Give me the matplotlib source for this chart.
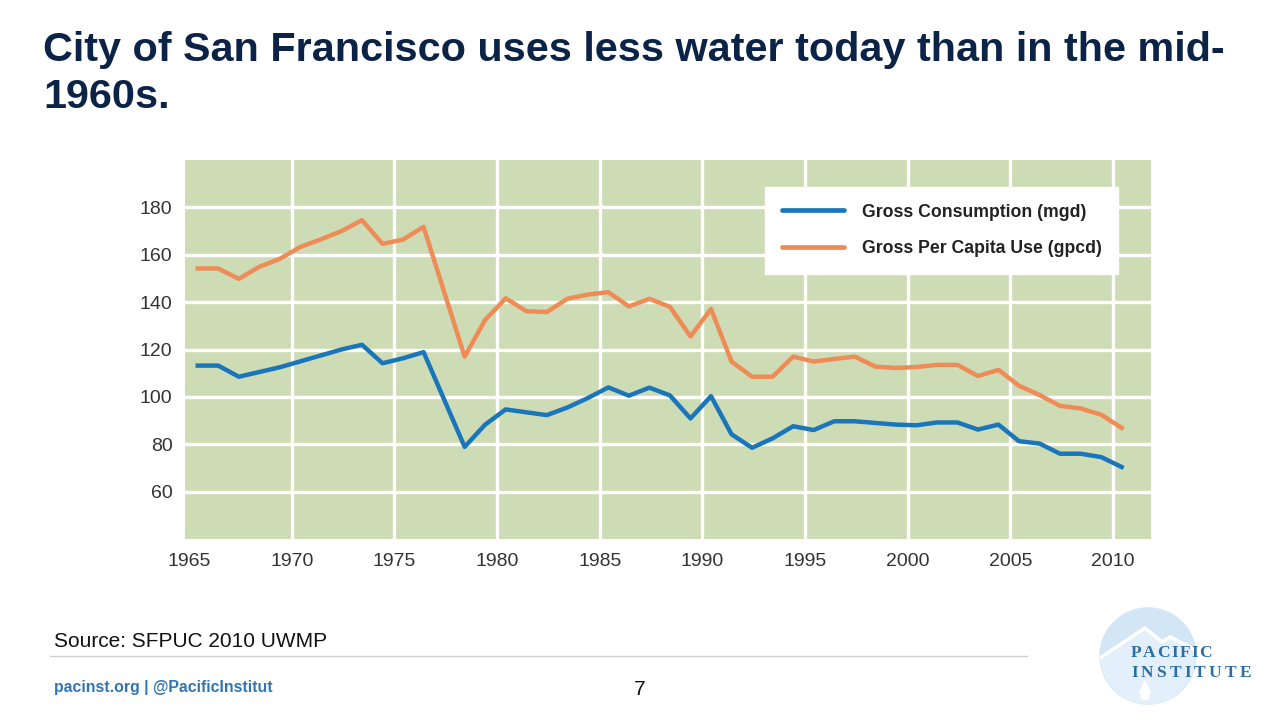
import numpy as np
import matplotlib.pyplot as plt
from matplotlib.patches import Ellipse, Polygon

# fiscal years (points sit near mid-year on the chart)
years = [1965, 1966, 1967, 1968, 1969, 1970, 1971, 1972, 1973, 1974, 1975, 1976,
         1978, 1979, 1980, 1981, 1982, 1983, 1984, 1985, 1986, 1987, 1988, 1989,
         1990, 1991, 1992, 1993, 1994, 1995, 1996, 1997, 1998, 1999, 2000, 2001,
         2002, 2003, 2004, 2005, 2006, 2007, 2008, 2009, 2010]

gross_mgd = [113.2, 113.2, 108.5, 110.5, 112.5, 115.0, 117.5, 120.0, 122.0, 114.2, 116.3, 118.9,
             78.9, 88.3, 94.7, 93.5, 92.3, 95.5, 99.5, 104.0, 100.5, 103.9, 100.6, 90.9,
             100.3, 84.2, 78.5, 82.5, 87.6, 86.0, 89.7, 89.7, 89.0, 88.3, 88.0, 89.2,
             89.2, 86.2, 88.3, 81.3, 80.3, 76.0, 76.0, 74.6, 70.4]

per_capita_gpcd = [154.2, 154.2, 149.8, 154.9, 158.3, 163.3, 166.5, 170.0, 174.6, 164.6, 166.4, 171.8,
                   117.0, 132.5, 141.6, 136.2, 135.8, 141.4, 143.2, 144.2, 138.2, 141.4, 138.0, 125.5,
                   137.1, 114.9, 108.5, 108.5, 117.0, 114.9, 116.0, 117.0, 112.8, 112.2, 112.6, 113.5,
                   113.5, 108.8, 111.4, 104.7, 100.8, 96.2, 95.1, 92.5, 86.9]

series_labels = ["Gross Consumption (mgd)", "Gross Per Capita Use (gpcd)"]
x_ticks = [1965, 1970, 1975, 1980, 1985, 1990, 1995, 2000, 2005, 2010]
y_ticks = [60, 80, 100, 120, 140, 160, 180]

title_lines = ["City of San Francisco uses less water today than in the mid-", "1960s."]

BLUE = "#1a75bb"
ORANGE = "#ee8b57"
GREEN = "#cddcb5"
NAVY = "#0b2346"
LOGO_BLUE = "#2b6ea6"

fig = plt.figure(figsize=(12.8, 7.2), dpi=100)
W, H = 1280, 720


def px(x, y):
    # pixel position (from top-left) -> figure fraction
    return x / W, 1 - y / H


ax = fig.add_axes([185 / W, 1 - 539 / H, (1151 - 185) / W, (539 - 160) / H])
ax.set_facecolor(GREEN)
for s in ax.spines.values():
    s.set_visible(False)

# white grid, drawn by hand so the 1965 line at the left edge is left out
for xv in x_ticks[1:]:
    ax.axvline(xv, color="white", lw=2.4, zorder=1)
for yv in y_ticks:
    ax.axhline(yv, color="white", lw=2.4, zorder=1)

xs = np.array(years) + 0.42
ax.plot(xs, gross_mgd, color=BLUE, lw=3.2, label=series_labels[0], zorder=3)
ax.plot(xs, per_capita_gpcd, color=ORANGE, lw=3.2, label=series_labels[1], zorder=3)

ax.set_xlim(1964.8, 2011.85)
ax.set_ylim(40, 200)
ax.set_xticks(x_ticks)
ax.set_yticks(y_ticks)
ax.tick_params(length=0, labelsize=14, colors="#333333")
ax.tick_params(axis="x", pad=10)
ax.tick_params(axis="y", pad=9)
for lab in ax.get_xticklabels() + ax.get_yticklabels():
    lab.set_fontfamily("Liberation Sans")

leg = ax.legend(loc="upper right", bbox_to_anchor=(0.966, 0.929), borderaxespad=0,
                frameon=True, fancybox=False, framealpha=1, edgecolor="white",
                facecolor="white", handlelength=3.5, handletextpad=1.0, borderpad=0.95,
                labelspacing=1.1,
                prop={"family": "Liberation Sans", "weight": "bold", "size": 12.7})
for t in leg.get_texts():
    t.set_color("#222222")
for ln in leg.get_lines():
    ln.set_linewidth(3.4)
    ln.set_solid_capstyle("round")

# title
fig.text(*px(43, 61), title_lines[0], fontsize=29.8, fontweight="bold",
         family="Liberation Sans", color=NAVY, va="baseline")
fig.text(*px(43, 108), title_lines[1], fontsize=29.8, fontweight="bold",
         family="Liberation Sans", color=NAVY, va="baseline")

# footer
fig.text(*px(54, 647), "Source: SFPUC 2010 UWMP", fontsize=15,
         family="Liberation Sans", color="#111111", va="baseline")
fig.add_artist(plt.Line2D([50 / W, 1027 / W], [1 - 656 / H, 1 - 656 / H],
                          color="#d0d0d0", lw=1))
fig.text(*px(54, 692), "pacinst.org | @PacificInstitut", fontsize=11.4,
         fontweight="bold", family="Liberation Sans", color="#2f75b5", va="baseline")
fig.text(*px(640, 695), "7", fontsize=15, family="Liberation Sans",
         color="#111111", va="baseline", ha="center")

# logo: pale circle, lighter mountain below a white ridge, white drop
r = 48
circ = Ellipse(px(1148, 656), 2 * r / W, 2 * r / H, transform=fig.transFigure,
               color="#d3e6f6", zorder=0)
fig.add_artist(circ)
ridge = [(1100, 658), (1124, 642), (1145, 628), (1162, 642), (1170, 637), (1200, 652)]
mountain = Polygon([px(a, b) for a, b in ridge + [(1200, 710), (1100, 710)]],
                   transform=fig.transFigure, color="#e3effa", zorder=0.3)
fig.add_artist(mountain)
mountain.set_clip_path(circ)
ridge_line = plt.Line2D([px(a, b)[0] for a, b in ridge], [px(a, b)[1] for a, b in ridge],
                        transform=fig.transFigure, color="white", lw=2.5, zorder=0.4)
fig.add_artist(ridge_line)
ridge_line.set_clip_path(circ)
drop = [(1145, 681), (1140, 692), (1142, 699), (1148, 699), (1150, 692)]
fig.add_artist(Polygon([px(a, b) for a, b in drop], transform=fig.transFigure,
                       color="white", zorder=0.5))


def spaced_text(x0, y0, s, tracking, **kw):
    # draw letters one by one with extra spacing (pixels)
    renderer = fig.canvas.get_renderer()
    x = x0
    for ch in s:
        t = fig.text(*px(x, y0), ch, va="baseline", **kw)
        x += t.get_window_extent(renderer).width + tracking


logo_font = dict(fontsize=12.5, fontweight="bold", family="Liberation Serif", color=LOGO_BLUE)
spaced_text(1131, 657, "PACIFIC", 1.5, **logo_font)
spaced_text(1131, 677, "INSTITUTE", 3.2, **logo_font)

fig.savefig("out.png", dpi=100, facecolor="white")
